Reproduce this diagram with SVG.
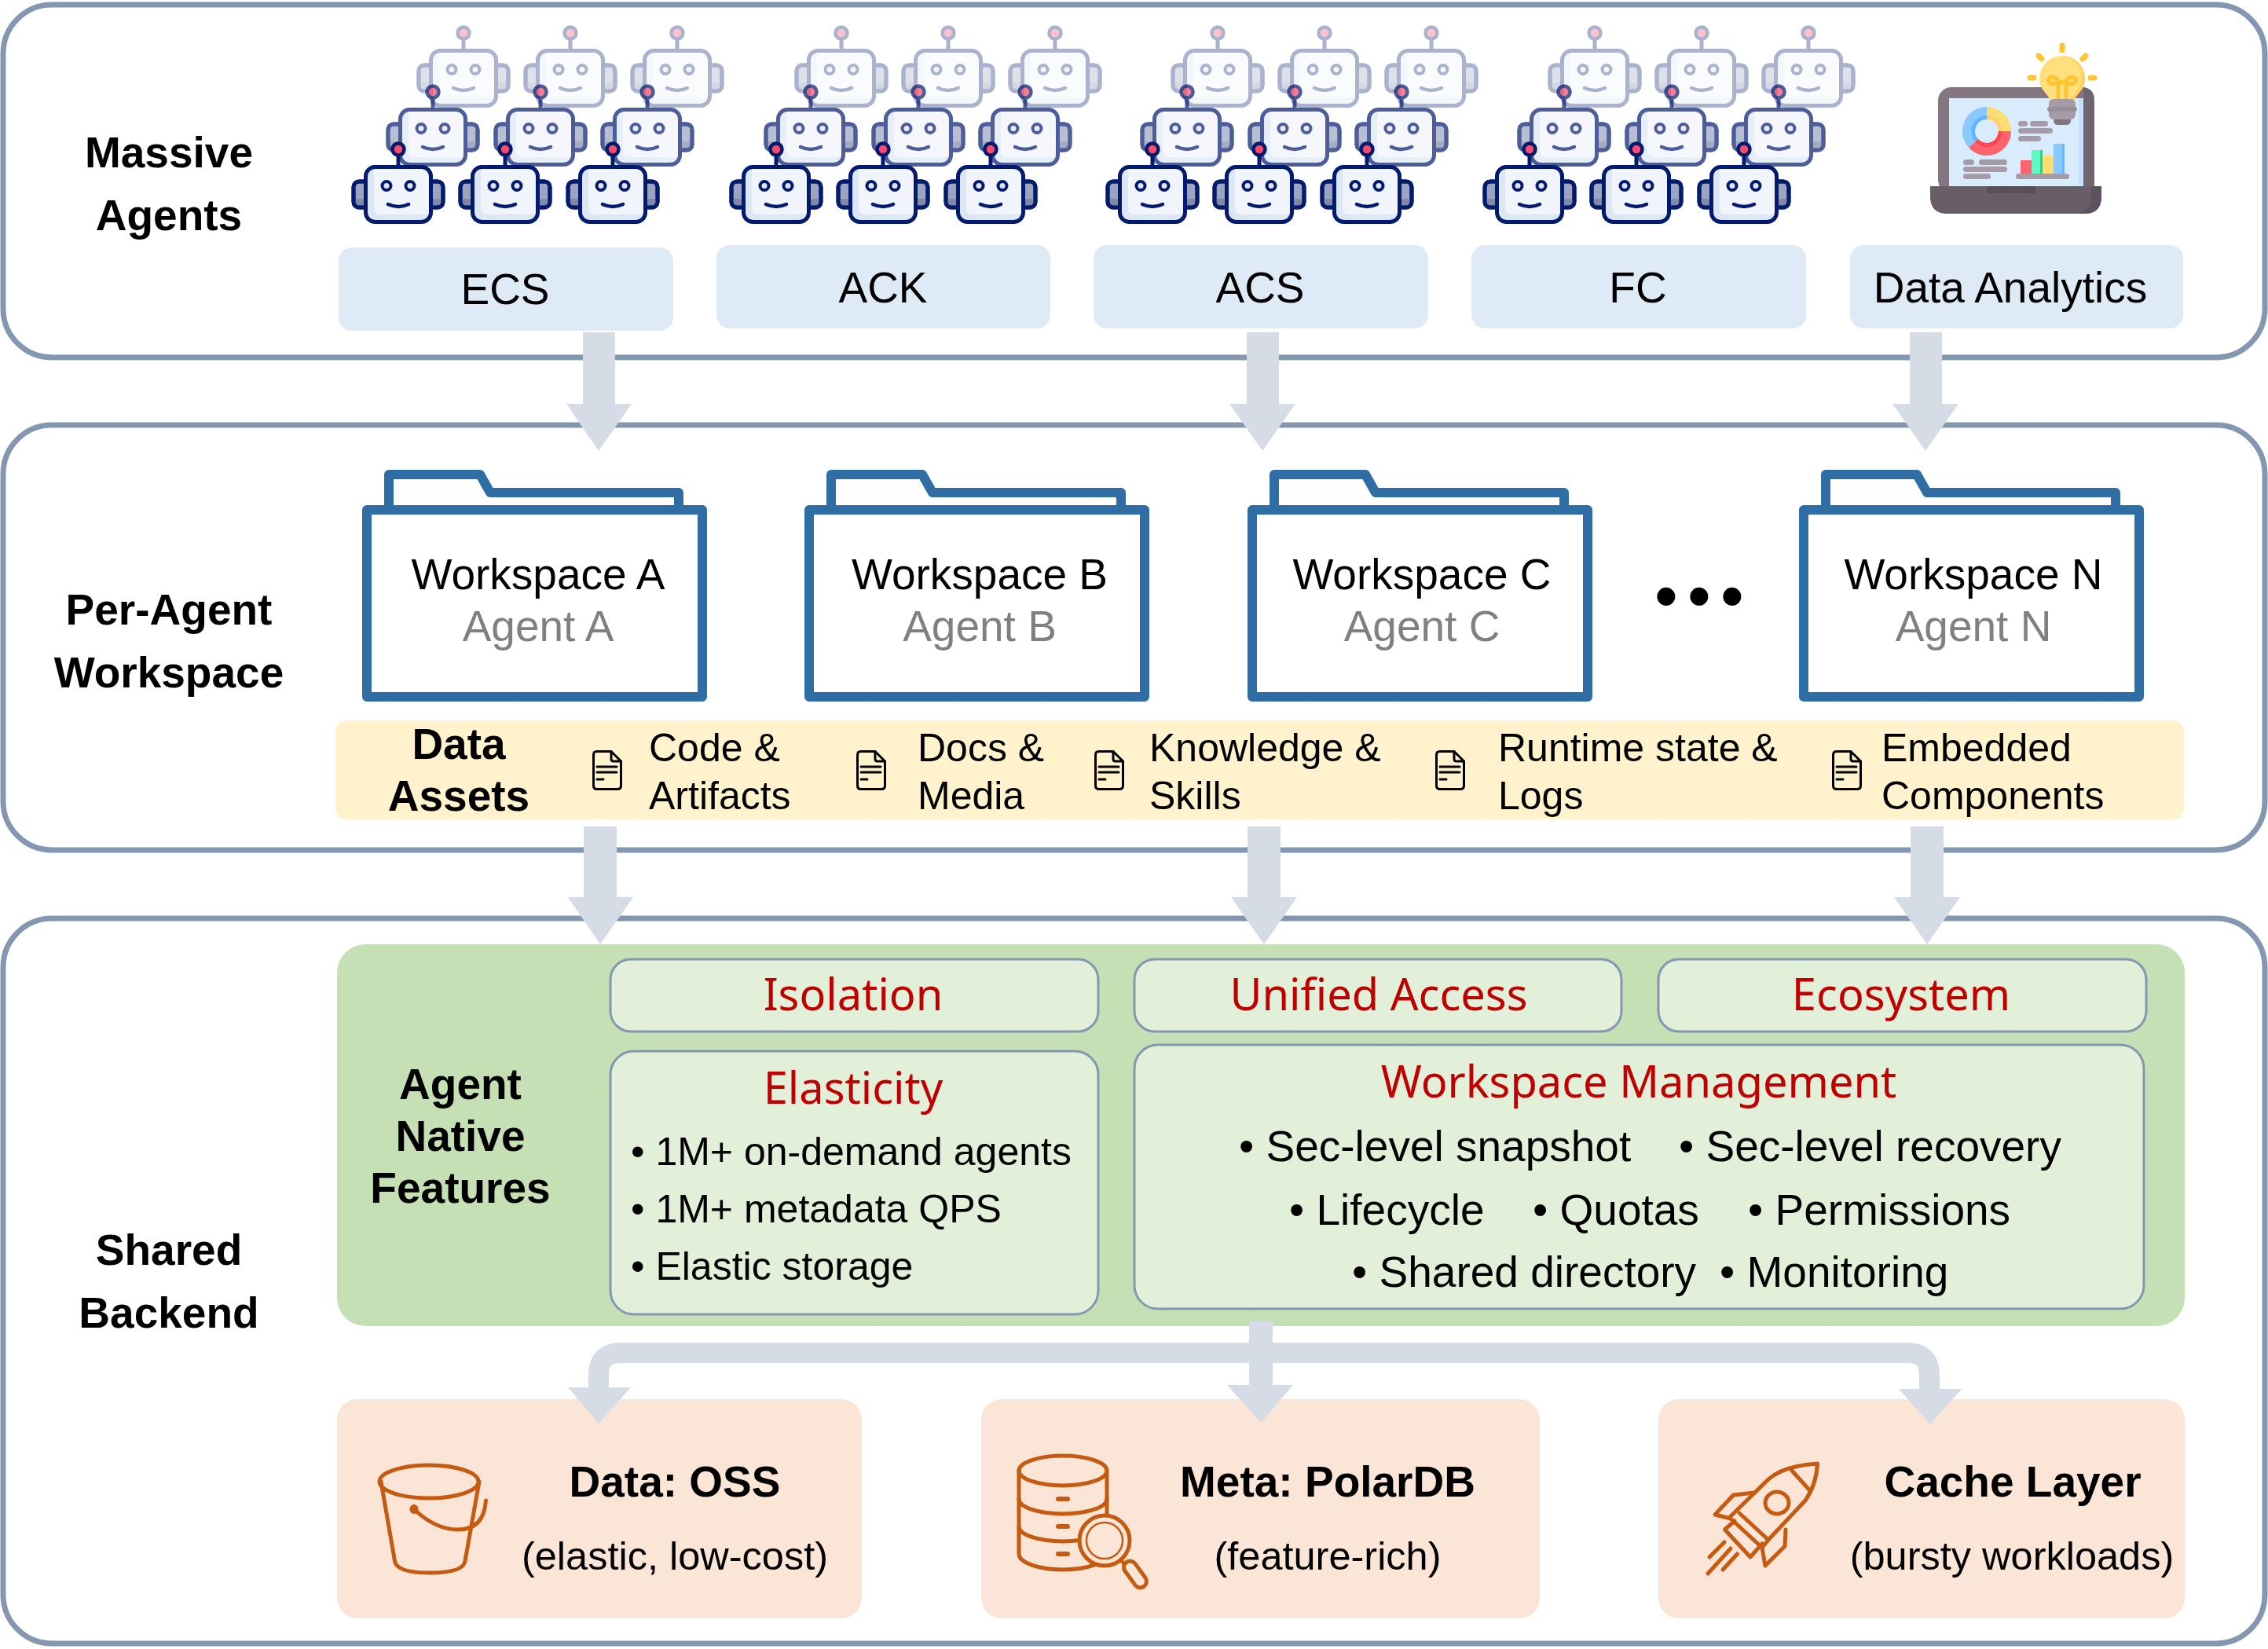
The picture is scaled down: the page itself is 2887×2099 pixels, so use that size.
<svg xmlns="http://www.w3.org/2000/svg" xmlns:xlink="http://www.w3.org/1999/xlink" width="2887" height="2099" viewBox="0 0 2887 2099">
<style>
text{font-family:"Liberation Sans",Arial,sans-serif;fill:#000}
.b{font-weight:700;font-size:55px;text-anchor:middle}
.lab{font-size:55px;text-anchor:middle}
.sub{font-size:50.500px;text-anchor:middle}
.agent{font-size:55px;text-anchor:middle;fill:#808080}
.asset{font-size:50px}
.li{font-size:50px}
.lm{font-size:55px}
.red{font-family:"Noto Sans","Open Sans",sans-serif;font-size:56px;text-anchor:middle;fill:#c00000}
.panel{fill:#fff;stroke:#8497b0;stroke-width:7}
.svc{fill:#deeaf6}
.inner{fill:#e2efd9;stroke:#8497b0;stroke-width:3}
.store{fill:#fbe5d6}
.folder{fill:#fff;stroke:#2f6ea5;stroke-width:12;stroke-linejoin:round}
.ic{fill:none;stroke:#c55a11;stroke-width:5;stroke-linecap:round;stroke-linejoin:round}
.flow{fill:#d6dce5}
.flowline{fill:none;stroke:#d6dce5;stroke-width:26}
.bar{fill:#a79ba7}
</style>
<defs>
<g id="robot">
<rect x="-57" y="21" width="114" height="33" rx="7" fill="#9ca4c0" stroke="#031a6e" stroke-width="5"/>
<path d="M-54.500 43H54.500V47Q54.500 51.500 50 51.500H-50Q-54.500 51.500-54.500 47Z" fill="#808aa8"/>
<rect x="-57" y="21" width="114" height="33" rx="7" fill="none" stroke="#031a6e" stroke-width="5"/>
<path d="M0-15V3" stroke="#031a6e" stroke-width="5" fill="none"/>
<circle cx="0" cy="-20" r="7.500" fill="#fb4a6a" stroke="#031a6e" stroke-width="4.500"/>
<rect x="-41.500" y="2.500" width="83" height="70" rx="12" fill="#f1f5fb"/>
<path d="M-41 14Q-41 3-30 3H-31V55Q-31 63-23 63H41V60Q41 72 30 72H-30Q-41 72-41 60Z" fill="#dce7f6"/>
<rect x="-41.500" y="2.500" width="83" height="70" rx="12" fill="none" stroke="#031a6e" stroke-width="5"/>
<circle cx="-15" cy="26.500" r="5.500" fill="#dde4f2" stroke="#031a6e" stroke-width="4"/>
<circle cx="15" cy="26.500" r="5.500" fill="#dde4f2" stroke="#031a6e" stroke-width="4"/>
<path d="M-13 50Q0 56 13 50" fill="none" stroke="#031a6e" stroke-width="4.500" stroke-linecap="round"/>
</g>
<g id="fleet">
<g opacity=".33">
<use xlink:href="#robot" href="#robot" x="590" y="62"/>
<use xlink:href="#robot" href="#robot" x="726" y="62"/>
<use xlink:href="#robot" href="#robot" x="862" y="62"/>
</g>
<g opacity=".7">
<use xlink:href="#robot" href="#robot" x="551" y="137"/>
<use xlink:href="#robot" href="#robot" x="688" y="137"/>
<use xlink:href="#robot" href="#robot" x="824" y="137"/>
</g>
<use xlink:href="#robot" href="#robot" x="507" y="210"/>
<use xlink:href="#robot" href="#robot" x="643" y="210"/>
<use xlink:href="#robot" href="#robot" x="780" y="210"/>
</g>
<g id="folder">
<path class="folder" d="M495 650V604H611L624 627H864V650"/>
<rect class="folder" x="467" y="649" width="427" height="238"/>
</g>
<g id="doc" fill="none" stroke="#000" stroke-width="3" stroke-linecap="round" stroke-linejoin="round">
<path d="M5.500 1.500H24L36.500 14V45Q36.500 49.500 32 49.500H6Q1.500 49.500 1.500 45V6Q1.500 1.500 5.500 1.500Z"/>
<path d="M24 1.500V11Q24 14 27 14H36.500"/>
<path d="M6 21H31M6 28H31M6 37H14"/>
</g>
</defs>

<rect width="2887" height="2099" fill="#fff"/>

<!-- tier frames -->
<g id="tiers">
<rect class="panel" x="4" y="6" width="2879" height="449" rx="62"/>
<rect class="panel" x="4" y="541" width="2879" height="541" rx="62"/>
<rect class="panel" x="4" y="1169" width="2879" height="923" rx="62"/>
</g>

<g id="tier-labels">
<text class="b" x="215" y="213">Massive</text>
<text class="b" x="215" y="293">Agents</text>
<text class="b" x="215" y="795">Per-Agent</text>
<text class="b" x="215" y="875">Workspace</text>
<text class="b" x="215" y="1610">Shared</text>
<text class="b" x="215" y="1690">Backend</text>
</g>

<!-- compute platforms with their agents -->
<g id="node-ecs"><use xlink:href="#fleet" href="#fleet"/><rect class="svc" x="431" y="315" width="426" height="106" rx="17"/><text class="lab" x="643" y="387">ECS</text></g>
<g id="node-ack"><use xlink:href="#fleet" href="#fleet" x="481"/><rect class="svc" x="912" y="312" width="425" height="106" rx="17"/><text class="lab" x="1124" y="385">ACK</text></g>
<g id="node-acs"><use xlink:href="#fleet" href="#fleet" x="960"/><rect class="svc" x="1392" y="312" width="426" height="106" rx="17"/><text class="lab" x="1604" y="385">ACS</text></g>
<g id="node-fc"><use xlink:href="#fleet" href="#fleet" x="1440"/><rect class="svc" x="1873" y="312" width="426" height="106" rx="17"/><text class="lab" x="2085" y="385">FC</text></g>
<g id="node-analytics">
<g id="laptop">
<rect x="2467" y="111" width="199" height="135" rx="17" fill="#837680"/>
<path d="M2652 111H2649Q2666 111 2666 128V246H2652Z" fill="#6f6570"/>
<rect x="2481" y="125" width="171" height="115" fill="#d8ecfe"/>
<rect x="2646" y="125" width="6" height="115" fill="#c4e2ff"/>
<path d="M2457 237H2675V250Q2675 272 2653 272H2479Q2457 272 2457 250Z" fill="#685e68"/>
<path d="M2662 237H2675V250Q2675 272 2653 272H2645Q2662 268 2662 250Z" fill="#5d5360"/>
<rect x="2529" y="237" width="62" height="9" fill="#5a4f58"/>
<g fill="none" stroke-width="16">
<path d="M2529 144A23 23 0 0 1 2552 167" stroke="#ffdd75"/>
<path d="M2552 167A23 23 0 0 1 2511.900 182.400" stroke="#ff6370"/>
<path d="M2511.900 182.400A23 23 0 0 1 2529 144" stroke="#8ac9fe"/>
</g>
<g fill="none" stroke-width="5">
<path d="M2529 149.500A17.500 17.500 0 0 1 2546.500 167" stroke="#fecf6b"/>
<path d="M2546.500 167A17.500 17.500 0 0 1 2516 178.700" stroke="#fd4755"/>
<path d="M2516 178.700A17.500 17.500 0 0 1 2529 149.500" stroke="#60b7ff"/>
</g>
<g class="bar">
<rect x="2569" y="154" width="12" height="7" rx="3.500"/><rect x="2584" y="154" width="23" height="7" rx="3.500"/>
<rect x="2569" y="163" width="44" height="7" rx="3.500"/><rect x="2569" y="173" width="29" height="7" rx="3.500"/>
<rect x="2499" y="203" width="14" height="7" rx="3.500"/><rect x="2519" y="203" width="36" height="7" rx="3.500"/>
<rect x="2499" y="212" width="56" height="7" rx="3.500"/><rect x="2499" y="221" width="35" height="7" rx="3.500"/>
<rect x="2566" y="221" width="68" height="7" rx="3.500"/>
</g>
<rect x="2572" y="204" width="14" height="17" fill="#ff6370"/>
<rect x="2586" y="191" width="14" height="30" fill="#64f7c2"/><rect x="2597" y="191" width="3" height="30" fill="#00e499"/>
<rect x="2600" y="198" width="14" height="23" fill="#ffdd75"/>
<rect x="2614" y="183" width="14" height="38" fill="#8ac9fe"/><rect x="2625" y="183" width="3" height="38" fill="#60b7ff"/>
</g>
<g id="bulb">
<path d="M2610 128C2606 118 2596 114 2596 100A29 29 0 0 1 2654 100C2654 114 2644 118 2640 128Z" fill="#ffe07d"/>
<path d="M2627 71A29 29 0 0 1 2654 100C2654 114 2644 118 2640 128H2636C2640 118 2650 112 2650 98A29 29 0 0 0 2627 71Z" fill="#ffd064"/>
<g fill="none" stroke="#ffc431" stroke-width="5">
<path d="M2620 127V104C2620 98 2606 95 2608 103C2609 108 2616 107 2625 104C2634 107 2641 108 2642 103C2644 95 2630 98 2630 104V127"/>
</g>
<rect x="2614" y="148" width="22" height="11" rx="5" fill="#837680"/>
<rect x="2608" y="126" width="34" height="26" rx="6" fill="#a79ba7"/>
<rect x="2606" y="136" width="38" height="6" rx="3" fill="#998d99"/>
<g stroke="#ffc431" stroke-width="7" stroke-linecap="round">
<path d="M2625 58V64M2595 71L2599 75M2655 71L2651 75M2584 99H2589M2661 99H2666"/>
</g>
</g>
<rect class="svc" x="2355" y="312" width="424" height="106" rx="17"/><text class="lab" x="2559" y="385">Data Analytics</text>
</g>

<!-- per-agent workspaces -->
<g id="node-workspace-a"><use xlink:href="#folder" href="#folder"/><text class="lab" x="685" y="750">Workspace A</text><text class="agent" x="685" y="816">Agent A</text></g>
<g id="node-workspace-b"><use xlink:href="#folder" href="#folder" x="563"/><text class="lab" x="1247" y="750">Workspace B</text><text class="agent" x="1247" y="816">Agent B</text></g>
<g id="node-workspace-c"><use xlink:href="#folder" href="#folder" x="1127"/><text class="lab" x="1810" y="750">Workspace C</text><text class="agent" x="1810" y="816">Agent C</text></g>
<text id="ellipsis" x="2106 2126 2148 2169 2190" y="788" font-size="85">• • •</text>
<g id="node-workspace-n"><use xlink:href="#folder" href="#folder" x="1829"/><text class="lab" x="2512" y="750">Workspace N</text><text class="agent" x="2512" y="816">Agent N</text></g>

<g id="node-data-assets">
<rect x="427" y="917" width="2353" height="126" rx="14" fill="#fff2cc"/>
<text class="b" x="584" y="966">Data</text><text class="b" x="584" y="1032">Assets</text>
<use xlink:href="#doc" href="#doc" x="754" y="955"/>
<text class="asset" x="826" y="969">Code &amp;</text><text class="asset" x="826" y="1030">Artifacts</text>
<use xlink:href="#doc" href="#doc" x="1090" y="955"/>
<text class="asset" x="1168" y="969">Docs &amp;</text><text class="asset" x="1168" y="1030">Media</text>
<use xlink:href="#doc" href="#doc" x="1393" y="955"/>
<text class="asset" x="1463" y="969">Knowledge &amp;</text><text class="asset" x="1463" y="1030">Skills</text>
<use xlink:href="#doc" href="#doc" x="1827" y="955"/>
<text class="asset" x="1907" y="969">Runtime state &amp;</text><text class="asset" x="1907" y="1030">Logs</text>
<use xlink:href="#doc" href="#doc" x="2332" y="955"/>
<text class="asset" x="2395" y="969">Embedded</text><text class="asset" x="2395" y="1030">Components</text>
</g>

<!-- agent-native feature block -->
<g id="node-features">
<rect x="429" y="1202" width="2352" height="486" rx="36" fill="#c5e0b4"/>
<text class="b" x="586" y="1399">Agent</text><text class="b" x="586" y="1465">Native</text><text class="b" x="586" y="1531">Features</text>
</g>
<g id="node-isolation"><rect class="inner" x="777" y="1221" width="621" height="92" rx="26"/><text class="red" x="1086" y="1286">Isolation</text></g>
<g id="node-unified-access"><rect class="inner" x="1444" y="1221" width="620" height="92" rx="26"/><text class="red" x="1755" y="1286">Unified Access</text></g>
<g id="node-ecosystem"><rect class="inner" x="2111" y="1221" width="621" height="92" rx="26"/><text class="red" x="2420" y="1286">Ecosystem</text></g>
<g id="node-elasticity">
<rect class="inner" x="777" y="1338" width="621" height="335" rx="30"/>
<text class="red" x="1086" y="1405">Elasticity</text>
<text class="li" x="803" y="1483">• 1M+ on-demand agents</text>
<text class="li" x="803" y="1556">• 1M+ metadata QPS</text>
<text class="li" x="803" y="1629">• Elastic storage</text>
</g>
<g id="node-workspace-management">
<rect class="inner" x="1444" y="1330" width="1285" height="336" rx="30"/>
<text class="red" x="2086" y="1397">Workspace Management</text>
<text class="lm" x="1577" y="1478">• Sec-level snapshot</text>
<text class="lm" x="2137" y="1478">• Sec-level recovery</text>
<text class="lm" x="1641" y="1559">• Lifecycle</text>
<text class="lm" x="1951" y="1559">• Quotas</text>
<text class="lm" x="2225" y="1559">• Permissions</text>
<text class="lm" x="1721" y="1638">• Shared directory</text>
<text class="lm" x="2189" y="1638">• Monitoring</text>
</g>

<!-- storage services -->
<g id="node-oss">
<rect class="store" x="429" y="1781" width="668" height="279" rx="26"/>
<g class="ic">
<ellipse cx="546" cy="1886" rx="63" ry="21"/>
<path d="M485 1886L502.500 1987Q505 2002 547 2002Q590 2002 592 1987L610 1886"/>
<path d="M528 1922Q555 1947 583 1947Q616 1947 618.500 1910"/>
</g>
<ellipse cx="527" cy="1921" rx="5.500" ry="6" fill="#c55a11"/>
<text class="b" x="859" y="1905">Data: OSS</text>
<text class="sub" x="859" y="1998">(elastic, low-cost)</text>
</g>
<g id="node-polardb">
<rect class="store" x="1249" y="1781" width="711" height="279" rx="26"/>
<g class="ic">
<path d="M1297 1872V1978A56 20 0 0 0 1409 1978V1872"/>
<ellipse cx="1353" cy="1872" rx="56" ry="19"/>
<path d="M1297 1908A56 19 0 0 0 1409 1908M1297 1943A56 19 0 0 0 1409 1943"/>
<path d="M1347 1908H1359M1347 1943H1359M1347 1978H1359" stroke-width="6"/>
<circle cx="1406" cy="1961" r="32" fill="#fbe5d6"/>
<circle cx="1406" cy="1961" r="23" stroke-width="2.500"/>
<path d="M1427 1986L1437 1998"/>
<rect x="1437" y="1985" width="16" height="38" rx="8" transform="rotate(-36 1445 2004)" fill="#fbe5d6"/>
</g>
<text class="b" x="1690" y="1905">Meta: PolarDB</text>
<text class="sub" x="1690" y="1998">(feature-rich)</text>
</g>
<g id="node-cache">
<rect class="store" x="2111" y="1781" width="670" height="279" rx="26"/>
<g class="ic" stroke-width="4.500">
<path d="M2203 1930L2251 1883Q2270 1866 2313.500 1863Q2312 1890 2298 1910L2251 1960"/>
<path d="M2281 1872L2303.500 1897"/>
<ellipse cx="2262" cy="1913" rx="15" ry="14"/>
<path d="M2233 1900L2206.500 1903L2183 1928L2203 1933"/>
<path d="M2273 1947L2272 1968L2247 1993L2243 1970"/>
<path d="M2203 1933L2243 1970L2251 1960L2214 1926"/>
<path d="M2195.500 1947L2228 1982L2243 1965M2195.500 1947L2208 1936"/>
<path d="M2195 1963L2176 1982M2203 1971L2174 2003M2211.500 1978L2193 1998"/>
</g>
<text class="b" x="2562" y="1905">Cache Layer</text>
<text class="sub" x="2561" y="1998">(bursty workloads)</text>
</g>

<!-- flows between tiers -->
<g id="connectors">
<polygon class="flow" points="742,423 783,423 783,514 804,514 762,574 721,514 742,514"/>
<polygon class="flow" points="1587,423 1628,423 1628,514 1649,514 1607,574 1565,514 1587,514"/>
<polygon class="flow" points="2431,423 2472,423 2472,514 2493,514 2451,574 2409,514 2431,514"/>
<polygon class="flow" points="743,1052 785,1052 785,1142 806,1142 764,1202 723,1142 743,1142"/>
<polygon class="flow" points="1588,1052 1630,1052 1630,1142 1651,1142 1609,1202 1567,1142 1588,1142"/>
<polygon class="flow" points="2432,1052 2474,1052 2474,1142 2495,1142 2453,1202 2411,1142 2432,1142"/>
<path class="flowline" d="M762 1770V1750Q762 1722 790 1722H2428Q2456 1722 2456 1750V1770"/>
<polygon class="flow" points="1590,1682 1620,1682 1620,1763 1646,1763 1605,1811 1562,1763 1590,1763"/>
<polygon class="flow" points="723,1766 803,1766 762,1812"/>
<polygon class="flow" points="2417,1768 2497,1768 2457,1813"/>
</g>
</svg>
